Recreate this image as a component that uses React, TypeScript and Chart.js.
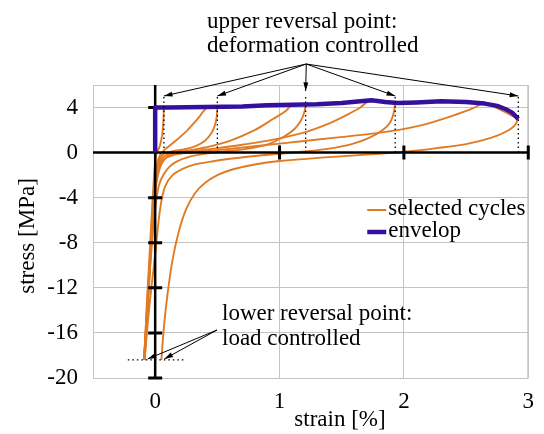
import React, { useEffect, useRef } from "react";
import { Chart, registerables } from "chart.js";

Chart.register(...registerables);

type Pt = [number, number];

// ---- axes ----
const xTickValues = [0, 1, 2, 3];
const yTickValues = [-20, -16, -12, -8, -4, 0, 4];
const xTitle = "strain [%]";
const yTitle = "stress [MPa]";

// ---- reversal points ----
const upperReversalStrain = [0.07, 0.5, 1.21, 1.93, 2.92];
const lowerReversalStrain = [-0.085, 0.05];
const lowerReversalStress = -18.4;

// ---- envelope (strain [%], stress [MPa]) ----
const envelop: Pt[] = [
  [0, 0], [0, 4.0], [0.1, 4.0], [0.4, 4.05], [0.7, 4.1], [0.9, 4.2], [1.1, 4.25],
  [1.3, 4.3], [1.5, 4.4], [1.65, 4.55], [1.74, 4.65], [1.85, 4.5], [1.95, 4.4],
  [2.1, 4.45], [2.3, 4.55], [2.5, 4.5], [2.65, 4.35], [2.75, 4.15], [2.82, 3.85],
  [2.87, 3.55], [2.92, 3.0],
];

// ---- selected cycles: unloading / reloading branches ----
const unload1: Pt[] = [
  [0.07, 4.0], [0.066, 2.8], [0.055, 1.5], [0.035, 0.5], [0.012, 0.0], [-0.005, -1.5],
  [-0.025, -5], [-0.05, -10], [-0.07, -14], [-0.085, -18.4],
];
const reload1: Pt[] = [
  [-0.085, -18.4], [-0.065, -14], [-0.04, -9], [-0.015, -4], [0.01, -1.2], [0.04, -0.2],
  [0.08, 0.3], [0.16, 1.0], [0.26, 2.0], [0.35, 3.1], [0.42, 4.02], [0.5, 4.05],
];
const unload2: Pt[] = [
  [0.5, 4.05], [0.495, 3.2], [0.48, 2.4], [0.45, 1.7], [0.4, 1.05], [0.33, 0.6], [0.24, 0.3],
  [0.14, 0.12], [0.07, -0.1], [0.035, -0.6], [0.015, -1.5], [0.0, -3], [-0.02, -6],
  [-0.05, -11], [-0.07, -15], [-0.09, -18.4],
];
const reload2: Pt[] = [
  [-0.09, -18.4], [-0.065, -14], [-0.04, -9], [-0.01, -4], [0.02, -1.5], [0.06, -0.45],
  [0.13, -0.05], [0.25, 0.15], [0.4, 0.45], [0.6, 1.05], [0.8, 2.0], [0.95, 3.0],
  [1.05, 3.7], [1.1, 4.2], [1.21, 4.3],
];
const unload3: Pt[] = [
  [1.21, 4.3], [1.2, 3.6], [1.17, 2.8], [1.12, 2.1], [1.04, 1.45], [0.91, 0.75], [0.75, 0.35],
  [0.55, 0.1], [0.4, -0.1], [0.28, -0.35], [0.18, -0.75], [0.12, -1.2], [0.07, -1.9],
  [0.03, -2.9], [0.0, -5], [-0.04, -10], [-0.07, -14.5], [-0.09, -18.4],
];
const reload3: Pt[] = [
  [-0.09, -18.4], [-0.06, -13.5], [-0.03, -8], [0.0, -3.5], [0.04, -1.3], [0.1, -0.35],
  [0.2, -0.05], [0.4, 0.25], [0.7, 0.7], [0.95, 1.15], [1.2, 1.8], [1.4, 2.6], [1.55, 3.4],
  [1.65, 4.0], [1.72, 4.55], [1.93, 4.45],
];
const unload4: Pt[] = [
  [1.93, 4.45], [1.92, 3.6], [1.89, 2.7], [1.83, 2.0], [1.72, 1.3], [1.58, 0.75], [1.4, 0.35],
  [1.2, 0.1], [1.0, -0.1], [0.8, -0.3], [0.6, -0.55], [0.45, -0.8], [0.32, -1.05],
  [0.22, -1.45], [0.14, -2.0], [0.08, -3], [0.04, -5], [0.0, -9], [-0.05, -14], [-0.085, -18.4],
];
const reload4: Pt[] = [
  [-0.085, -18.4], [-0.055, -13], [-0.025, -7], [0.01, -2.5], [0.06, -0.7], [0.15, -0.2],
  [0.3, 0.0], [0.6, 0.33], [1.0, 0.8], [1.47, 1.35], [1.95, 2.0], [2.2, 2.6], [2.4, 3.3],
  [2.55, 3.9], [2.65, 4.35], [2.92, 3.0],
];
const unload5: Pt[] = [
  [2.92, 3.0], [2.89, 2.4], [2.82, 1.85], [2.7, 1.3], [2.5, 0.75], [2.25, 0.38], [2.05, 0.12],
  [1.9, -0.02], [1.7, -0.18], [1.4, -0.4], [1.0, -0.75], [0.8, -1.05], [0.62, -1.5],
  [0.5, -2.0], [0.4, -2.7], [0.32, -3.6], [0.25, -5.0], [0.19, -7.0], [0.14, -9.5],
  [0.1, -12.5], [0.07, -15.5], [0.05, -18.4],
];

const cycleBranches = [unload1, reload1, unload2, reload2, unload3, reload3, unload4, reload4, unload5];

const seriesLabels = ["selected cycles", "envelop"];
const upperNote = ["upper reversal point:", "deformation controlled"];
const lowerNote = ["lower reversal point:", "load controlled"];

// ---- styles ----
const ORANGE = "#e07b24";
const PURPLE = "#35109c";
const GRID = "#c4c4c4";
const FAMILY = "'Liberation Serif', 'Times New Roman', serif";
const FS = 23;

function arrow(ctx: CanvasRenderingContext2D, x1: number, y1: number, x2: number, y2: number) {
  ctx.beginPath();
  ctx.moveTo(x1, y1);
  ctx.lineTo(x2, y2);
  ctx.stroke();
  const a = Math.atan2(y2 - y1, x2 - x1);
  const L = 9, w = 0.28;
  ctx.beginPath();
  ctx.moveTo(x2, y2);
  ctx.lineTo(x2 - L * Math.cos(a - w), y2 - L * Math.sin(a - w));
  ctx.lineTo(x2 - L * Math.cos(a + w), y2 - L * Math.sin(a + w));
  ctx.closePath();
  ctx.fill();
}

export default function App() {
  const ref = useRef<HTMLCanvasElement>(null);

  useEffect(() => {
    const canvas = ref.current;
    if (!canvas) return;
    const toData = (pts: Pt[]) => pts.map(([x, y]) => ({ x, y }));

    const overlay = {
      id: "overlay",
      beforeDatasetsDraw(chart: any) {
        const { ctx, chartArea: a } = chart;
        ctx.save();
        ctx.strokeStyle = GRID;
        ctx.lineWidth = 1;
        ctx.strokeRect(a.left + 0.5, a.top + 0.5, a.right - a.left - 1, a.bottom - a.top);
        ctx.restore();
      },
      beforeDatasetDraw(chart: any, args: any) {
        if (args.index !== 0) return;
        const { ctx, chartArea: a, scales } = chart;
        const xs = scales.x, ys = scales.y;
        const x0 = xs.getPixelForValue(0);
        const y0 = ys.getPixelForValue(0);
        ctx.save();
        ctx.strokeStyle = "#000";
        ctx.lineWidth = 2.5;
        ctx.beginPath();
        ctx.moveTo(a.left, y0);
        ctx.lineTo(a.right, y0);
        ctx.moveTo(x0, a.top);
        ctx.lineTo(x0, a.bottom);
        ctx.stroke();
        ctx.lineWidth = 3;
        ctx.beginPath();
        xTickValues.forEach((v) => {
          if (v === 0) return;
          const px = xs.getPixelForValue(v);
          ctx.moveTo(px, y0 - 7);
          ctx.lineTo(px, y0 + 7);
        });
        yTickValues.forEach((v) => {
          if (v === 0) return;
          const py = ys.getPixelForValue(v);
          ctx.moveTo(x0 - 7, py);
          ctx.lineTo(x0 + 7, py);
        });
        ctx.stroke();
        ctx.restore();
      },
      afterDraw(chart: any) {
        const { ctx, chartArea: a, scales } = chart;
        const xs = scales.x, ys = scales.y;
        ctx.save();
        ctx.strokeStyle = "#000";
        ctx.fillStyle = "#000";
        ctx.lineWidth = 1.3;
        ctx.setLineDash([1.5, 3]);
        const yTop = a.top + 12;
        const y0 = ys.getPixelForValue(0);
        ctx.beginPath();
        upperReversalStrain.forEach((v) => {
          const px = xs.getPixelForValue(v);
          ctx.moveTo(px, yTop);
          ctx.lineTo(px, y0);
        });
        const yl = ys.getPixelForValue(lowerReversalStress);
        ctx.moveTo(xs.getPixelForValue(-0.22), yl);
        ctx.lineTo(xs.getPixelForValue(0.24), yl);
        ctx.stroke();
        ctx.setLineDash([]);

        ctx.lineWidth = 1;
        const ax = xs.getPixelForValue(1.215);
        const ay = a.top - 21;
        upperReversalStrain.forEach((v) => {
          const px = xs.getPixelForValue(v);
          const tipY = Math.abs(px - ax) < 3 ? a.top + 6 : yTop - 1;
          arrow(ctx, ax, ay, px, tipY);
        });
        const lx = 217, ly = 330;
        lowerReversalStrain.forEach((v) => {
          arrow(ctx, lx, ly, xs.getPixelForValue(v) + 3, yl - 1);
        });

        ctx.font = `${FS}px ${FAMILY}`;
        ctx.textBaseline = "alphabetic";
        ctx.textAlign = "left";
        ctx.fillText(upperNote[0], 207, 28);
        ctx.fillText(upperNote[1], 207, 52);
        ctx.fillText(lowerNote[0], 222, 320);
        ctx.fillText(lowerNote[1], 222, 345);

        const lgx = a.right - 161;
        const ly1 = 210, ly2 = 232;
        ctx.lineWidth = 2;
        ctx.strokeStyle = ORANGE;
        ctx.beginPath();
        ctx.moveTo(lgx, ly1);
        ctx.lineTo(lgx + 19, ly1);
        ctx.stroke();
        ctx.lineWidth = 4.5;
        ctx.strokeStyle = PURPLE;
        ctx.beginPath();
        ctx.moveTo(lgx, ly2);
        ctx.lineTo(lgx + 19, ly2);
        ctx.stroke();
        ctx.textBaseline = "middle";
        ctx.fillText(seriesLabels[0], lgx + 21, ly1 - 1);
        ctx.fillText(seriesLabels[1], lgx + 21, ly2 - 1);

        ctx.textAlign = "center";
        ctx.textBaseline = "alphabetic";
        ctx.fillText(xTitle, 340, 426);
        ctx.translate(34, 236);
        ctx.rotate(-Math.PI / 2);
        ctx.fillText(yTitle, 0, 0);
        ctx.restore();
      },
    };

    const chart = new Chart(canvas, {
      type: "scatter",
      data: {
        datasets: [
          {
            label: seriesLabels[1],
            data: toData(envelop),
            showLine: true,
            borderColor: PURPLE,
            backgroundColor: PURPLE,
            borderWidth: 4.5,
            borderJoinStyle: "round",
            pointRadius: 0,
            tension: 0,
          },
          ...cycleBranches.map((c) => ({
            label: seriesLabels[0],
            data: toData(c),
            showLine: true,
            borderColor: ORANGE,
            backgroundColor: ORANGE,
            borderWidth: 1.9,
            pointRadius: 0,
            tension: 0.35,
          })),
        ],
      },
      options: {
        responsive: false,
        animation: false,
        layout: { padding: { left: 0, right: 13, top: 85, bottom: 0 } },
        plugins: { legend: { display: false }, tooltip: { enabled: false } },
        scales: {
          x: {
            type: "linear",
            min: -0.5,
            max: 3,
            afterBuildTicks: (s: any) => {
              s.ticks = xTickValues.map((v) => ({ value: v }));
            },
            afterFit: (s: any) => {
              s.height = 56;
            },
            grid: { color: GRID, drawTicks: false },
            border: { display: false },
            ticks: { color: "#000", padding: 10, font: { family: FAMILY, size: FS } },
          },
          y: {
            type: "linear",
            min: -20,
            max: 6,
            afterBuildTicks: (s: any) => {
              s.ticks = yTickValues.map((v) => ({ value: v }));
            },
            afterFit: (s: any) => {
              s.width = 93;
            },
            grid: { color: GRID, drawTicks: false },
            border: { display: false },
            ticks: { color: "#000", padding: 15, font: { family: FAMILY, size: FS } },
          },
        },
      },
      plugins: [overlay],
    } as any);

    return () => chart.destroy();
  }, []);

  return (
    <div style={{ position: "absolute", left: 0, top: 0, width: 544, height: 434, background: "#fff" }}>
      <canvas ref={ref} width={544} height={434} style={{ display: "block" }} />
    </div>
  );
}
